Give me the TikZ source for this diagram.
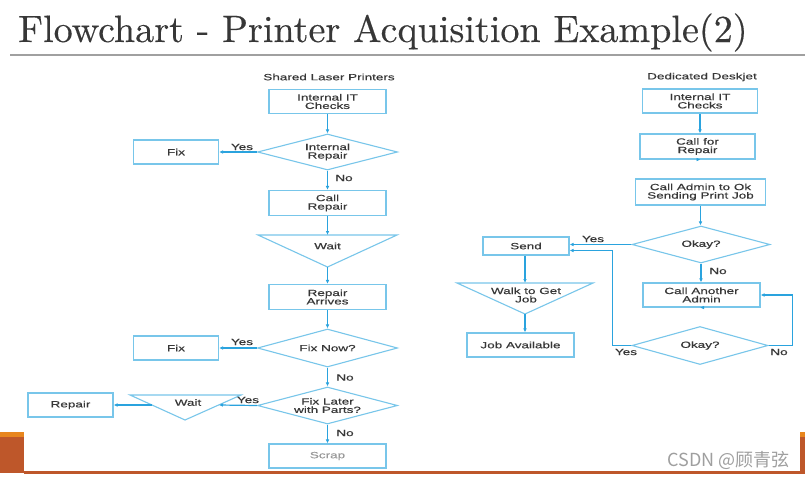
\documentclass[tikz,border=0pt]{standalone}
\usepackage{fontspec}
\usepackage{graphicx}
\usetikzlibrary{shapes.geometric,arrows.meta,calc}
\newfontfamily\dfont[FakeStretch=1.5,FakeBold=0.35]{Liberation Sans}
\newfontfamily\tfont[FakeBold=0.3]{lmroman10-regular.otf}
\newfontfamily\cjkfont{Noto Sans CJK SC}
\definecolor{boxc}{RGB}{120,198,234}
\definecolor{arrc}{RGB}{42,163,222}
\definecolor{txtc}{RGB}{55,55,55}
\definecolor{titlec}{RGB}{55,55,55}
\definecolor{rust}{RGB}{190,87,42}
\definecolor{orng}{RGB}{232,134,30}
\definecolor{rulec}{RGB}{160,160,160}
\begin{document}
\begin{tikzpicture}[x=1pt,y=-1pt,
  txt/.style={font=\dfont\fontsize{9}{8.4}\selectfont, text=txtc, align=center, inner sep=0pt},
  boxn/.style={txt, draw=boxc, line width=1.1pt, rectangle},
  dia/.style={txt, draw=boxc, line width=1.1pt, diamond, aspect=3.7, inner sep=0pt},
  tri/.style={draw=boxc, line width=1.1pt, line join=miter},
  arr/.style={draw=arrc, line width=1.2pt, -{Latex[length=4pt,width=3.6pt]}},
  lbl/.style={txt}
]
\useasboundingbox[fill=white] (0,0) rectangle (805,477);

% title
\node[anchor=base west, inner sep=0pt, text=titlec] (title) at (18,42)
  {\scalebox{1.03}[1.03]{\tfont\fontsize{37}{40}\selectfont Flowchart - Printer Acquisition Example(2)}};
\draw[rulec, line width=1.4pt] (10,55) coordinate (rl) -- (805,55) coordinate (rr);

% subtitles
\node[txt] (st1) at (329,77) {Shared Laser Printers};
\node[txt] (st2) at (702,77) {Dedicated Deskjet};

% ---------- left column ----------
\node[boxn, minimum width=117pt, minimum height=24pt] (itc1) at (327.5,101.5) {Internal IT\\Checks};
\node[dia, minimum width=140pt, minimum height=36pt] (ir) at (327.5,152) {Internal\\Repair};
\node[boxn, minimum width=85pt, minimum height=24pt] (fix1) at (176,152) {Fix};
\node[boxn, minimum width=117pt, minimum height=25pt] (cr) at (327.5,203) {Call\\Repair};
% wait triangle 1
\coordinate (w1tl) at (258,235);
\coordinate (w1tr) at (397,235);
\coordinate (w1b) at (327.5,267);
\coordinate (w1t) at (327.5,235);
\draw[tri] (w1tl) -- (w1tr) -- (w1b) -- cycle;
\node[txt] (w1) at (327.5,246) {Wait};
\node[boxn, minimum width=117pt, minimum height=25pt] (ra) at (327.5,297) {Repair\\Arrives};
\node[dia, minimum width=140pt, minimum height=38pt] (fn) at (327.5,348) {Fix Now?};
\node[boxn, minimum width=85pt, minimum height=24pt] (fix2) at (176,348) {Fix};
\node[dia, minimum width=140pt, minimum height=37pt] (fl) at (327.5,405.5) {Fix Later\\with Parts?};
% wait triangle 2
\coordinate (w2tl) at (130,395);
\coordinate (w2tr) at (241,395);
\coordinate (w2b) at (185,420);
\coordinate (w2r) at (219,405);
\coordinate (w2l) at (152,405);
\draw[tri] (w2tl) -- (w2tr) -- (w2b) -- cycle;
\node[txt] (w2) at (188,402.5) {Wait};
\node[boxn, minimum width=85pt, minimum height=24pt] (rep) at (70.5,405) {Repair};
\node[boxn, minimum width=117pt, minimum height=24pt, text=gray!80] (scrap) at (327.5,456) {Scrap};

\draw[arr] (itc1.south) -- (ir.north);
\draw[arr] (ir.west) -- (fix1.east);
\draw[arr] (ir.south) -- (cr.north);
\draw[arr] (cr.south) -- (w1t);
\draw[arr] (w1b) -- (ra.north);
\draw[arr] (ra.south) -- (fn.north);
\draw[arr] (fn.west) -- (fix2.east);
\draw[arr] (fn.south) -- (fl.north);
\draw[arr] (fl.west) -- (w2r);
\draw[arr] (w2l) -- (rep.east);
\draw[arr] (fl.south) -- (scrap.north);

\node[lbl] (y1) at (242,147) {Yes};
\node[lbl] (n1) at (344,178) {No};
\node[lbl] (y2) at (242,342) {Yes};
\node[lbl] (n2) at (345,377.5) {No};
\node[lbl] (y3) at (248,400) {Yes};
\node[lbl] (n3) at (345,433) {No};

% ---------- right column ----------
\node[boxn, minimum width=115pt, minimum height=24pt] (itc2) at (700,101) {Internal IT\\Checks};
\node[boxn, minimum width=115pt, minimum height=25pt] (cfr) at (697.5,146.5) {Call for\\Repair};
\node[boxn, minimum width=130pt, minimum height=26pt] (cao) at (700.5,192) {Call Admin to Ok\\Sending Print Job};
\node[dia, minimum width=138pt, minimum height=37pt] (ok1) at (701,244.5) {Okay?};
\node[boxn, minimum width=86pt, minimum height=18pt] (send) at (526,246) {Send};
\node[boxn, minimum width=117pt, minimum height=24pt] (caa) at (701.5,295) {Call Another\\Admin};
\node[dia, minimum width=136pt, minimum height=38pt] (ok2) at (700,345.5) {Okay?};
% walk triangle
\coordinate (wtl) at (457,283);
\coordinate (wtr) at (593,283);
\coordinate (wb) at (525,314);
\coordinate (wt) at (525,283);
\draw[tri] (wtl) -- (wtr) -- (wb) -- cycle;
\node[txt] (walk) at (526,295) {Walk to Get\\Job};
\node[boxn, minimum width=107pt, minimum height=24pt] (ja) at (520.5,345) {Job Available};

\draw[arr] (itc2.south) -- (itc2.south |- cfr.north);
\draw[arr] (cfr.south) -- (cfr.south -| cao.north);
\draw[arr] (cao.south) -- (cao.south |- ok1.north);
\draw[arr] (ok1.west) -- (send.east |- ok1.west);
\draw[arr] (ok1.south) -- (ok1.south |- caa.north);
\draw[arr] (caa.south) -- (caa.south -| ok2.north);
\draw[arr] (ok2.east) -- ++(24,0) |- (caa.east);
\draw[arr] (ok2.west) -- ++(-19,0) |- ($(send.east)+(0,4.5)$);
\draw[arr] (send.south -| wt) -- (wt);
\draw[arr] (wb) -- (wb |- ja.north);

\node[lbl] (y4) at (593,239) {Yes};
\node[lbl] (n4) at (718,271) {No};
\node[lbl] (y5) at (626,352) {Yes};
\node[lbl] (n5) at (779,352) {No};

% ---------- decorations ----------
\fill[rust] (0,437) rectangle (24,473);
\fill[orng] (0,432) rectangle (24,437);
\fill[rust] (24,471) rectangle (802,473.5);
\fill[rust] (800,437) rectangle (805,473.5);
\fill[orng] (800,432) rectangle (805,437);

\node[anchor=east, inner sep=0pt, text=gray!75, font=\cjkfont\fontsize{18}{19}\selectfont] (wm) at (790,460) {CSDN @顾青弦};
\end{tikzpicture}
\end{document}
